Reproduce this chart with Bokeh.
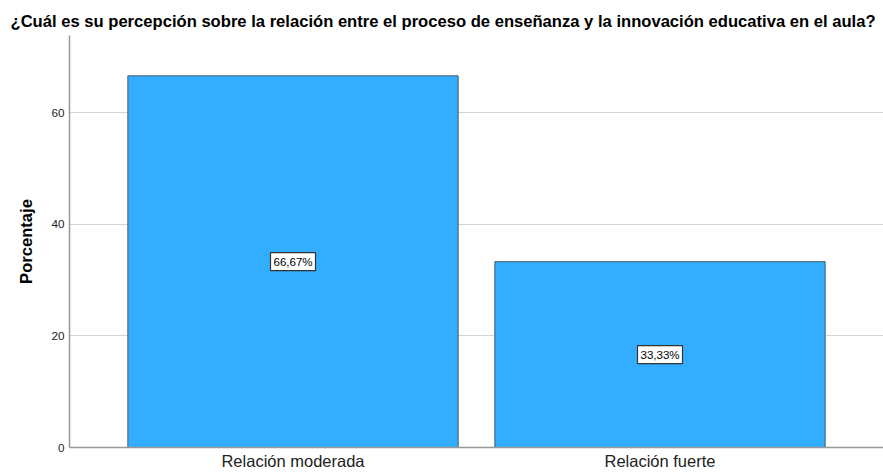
from bokeh.plotting import figure
from bokeh.models import ColumnDataSource, FactorRange, Range1d, Title
from bokeh.core.properties import value
from bokeh.embed import file_html
from bokeh.resources import INLINE

categories = ["Relación moderada", "Relación fuerte"]
values = [66.67, 33.33]
labels = ["66,67%", "33,33%"]
title_text = "¿Cuál es su percepción sobre la relación entre el proceso de enseñanza y la innovación educativa en el aula?"

src = ColumnDataSource(dict(
    cat=categories,
    val=values,
    mid=[v / 2 for v in values],
    lab=labels,
))

p = figure(
    width=883, height=472,
    x_range=FactorRange(factors=categories, range_padding=0.109),
    y_range=Range1d(0, 73.9),
    output_backend="svg", toolbar_location=None,
    min_border_left=69, min_border_right=0, min_border_top=35, min_border_bottom=23,
)
p.title = Title(text=title_text, align="left", offset=-59,
                text_font="Liberation Sans", text_font_size="16.6px",
                text_font_style="bold", text_color="#000000", standoff=9)

p.vbar(x="cat", top="val", width=0.9, source=src,
       fill_color="#33adff", line_color="#4a5a6a", line_width=1)

p.text(x="cat", y="mid", text="lab", source=src,
       text_align="center", text_baseline="middle",
       text_font=value("Liberation Sans"), text_font_size="11.5px", text_color="#000000",
       background_fill_color="#ffffff", border_line_color="#333333",
       border_line_width=1.2, padding=3)

p.outline_line_color = None
p.xgrid.grid_line_color = None
p.ygrid.grid_line_color = "#d4d4d4"
p.ygrid.grid_line_width = 1
p.yaxis.ticker = [0, 20, 40, 60]

for ax in (p.xaxis[0], p.yaxis[0]):
    ax.axis_line_color = "#999999"
    ax.axis_line_width = 1.5
    ax.major_tick_line_color = None
    ax.minor_tick_line_color = None
    ax.major_tick_out = 0
    ax.major_tick_in = 0
    ax.major_label_text_font = "Liberation Sans"
    ax.major_label_text_color = "#222222"

p.yaxis.major_label_text_font_size = "11.7px"
p.yaxis.major_label_standoff = 5
p.yaxis.axis_label = "Porcentaje"
p.yaxis.axis_label_text_font = "Liberation Sans"
p.yaxis.axis_label_text_font_size = "16.6px"
p.yaxis.axis_label_text_font_style = "bold"
p.yaxis.axis_label_text_color = "#000000"
p.yaxis.axis_label_standoff = 12

p.xaxis.major_label_text_font_size = "16.5px"
p.xaxis.major_label_standoff = 4

open("out.html", "w").write(file_html(p, INLINE))
